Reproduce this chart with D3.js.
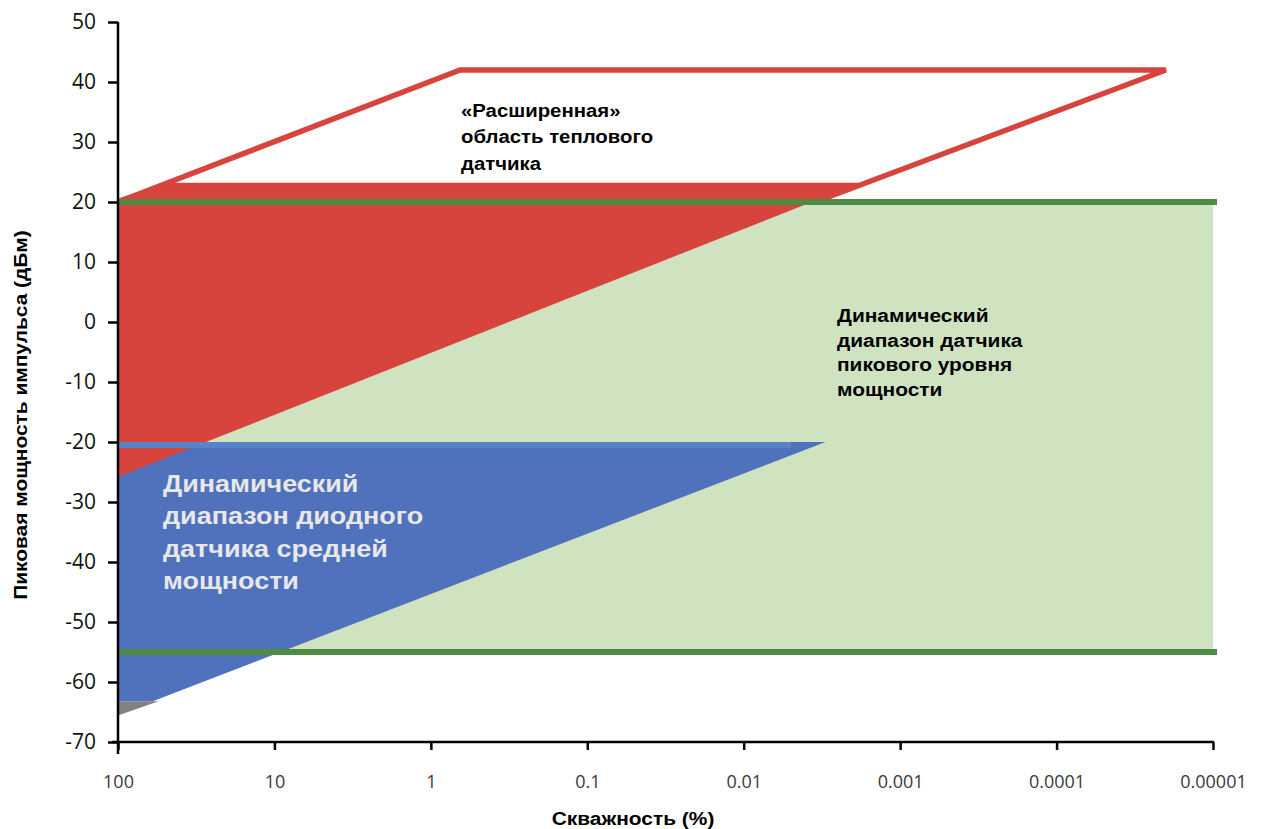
<!DOCTYPE html>
<html>
<head>
<meta charset="utf-8">
<script src="https://cdn.jsdelivr.net/npm/d3@7/dist/d3.min.js"></script>
<style>
  html, body { margin: 0; padding: 0; background: #ffffff; }
  svg { display: block; }
</style>
</head>
<body>
<svg id="chart" width="1261" height="829"></svg>
<script>
// Duty cycle (%) axis ticks and their labels
const dutyTicks = [100, 10, 1, 0.1, 0.01, 0.001, 0.0001, 0.00001];
const dutyTickLabels = ["100", "10", "1", "0.1", "0.01", "0.001", "0.0001", "0.00001"];
// Peak pulse power (dBm) axis ticks
const powerTicks = [50, 40, 30, 20, 10, 0, -10, -20, -30, -40, -50, -60, -70];

// Peak power sensor dynamic range: upper and lower limits (dBm) over the full duty range
const peakSensorLimits = [20, -55];
const peakSensorDuty = [100, 0.00001];

// Diode average-power sensor region [duty %, dBm]
const diodeRegion = [[100, -20], [0.003, -20], [60, -63.2], [100, -63.2]];
const diodeTopEdge = [[100, -20], [0.005, -20]];
const diodeTail = [[100, -63.2], [55, -63.2], [100, -65.6]];

// Thermal sensor region (filled) [duty %, dBm]
const thermalRegion = [[100, 20.6], [48, 23.2], [0.0018, 23.2], [100, -25.8]];
// "Extended" thermal sensor area outline [duty %, dBm]
const thermalExtended = [[100, 20], [0.65, 42], [0.00002, 42], [0.0035, 20]];

const colors = {
  peakFill: "#d0e3c1",
  peakLine: "#4e8c46",
  diode: "#5072bc",
  diodeEdge: "#5784c7",
  thermal: "#d7443e",
  tail: "#6b6b6b"
};

const svg = d3.select("#chart");
const x0 = 118, x1 = 1213, yTop = 22, yBottom = 742;

const x = d3.scaleLog().domain([100, 0.00001]).range([x0, x1]);
const y = d3.scaleLinear().domain([-70, 50]).range([yBottom, yTop]);

const line = d3.line().x(d => x(d[0])).y(d => y(d[1]));
const closed = pts => line(pts) + "Z";

// Peak sensor band
svg.append("rect")
  .attr("x", x(peakSensorDuty[0]))
  .attr("y", y(peakSensorLimits[0]))
  .attr("width", x(peakSensorDuty[1]) - x(peakSensorDuty[0]))
  .attr("height", y(peakSensorLimits[1]) - y(peakSensorLimits[0]))
  .attr("fill", colors.peakFill);

// Diode sensor region
svg.append("path").attr("d", closed(diodeTail)).attr("fill", colors.tail).attr("opacity", 0.85);
svg.append("path").attr("d", closed(diodeRegion)).attr("fill", colors.diode);

// Thermal sensor region
svg.append("path").attr("d", closed(thermalRegion)).attr("fill", colors.thermal);

// Top edge of the diode region
svg.append("path")
  .attr("d", line(diodeTopEdge))
  .attr("transform", "translate(0,3)")
  .attr("fill", "none")
  .attr("stroke", colors.diodeEdge)
  .attr("stroke-width", 6);

// Extended thermal area outline
svg.append("path")
  .attr("d", line(thermalExtended))
  .attr("fill", "none")
  .attr("stroke", colors.thermal)
  .attr("stroke-width", 5.5)
  .attr("stroke-linejoin", "miter");

// Peak sensor limit lines
svg.selectAll("line.limit")
  .data(peakSensorLimits)
  .join("line")
  .attr("class", "limit")
  .attr("x1", x(peakSensorDuty[0]))
  .attr("x2", x(peakSensorDuty[1]) + 4)
  .attr("y1", d => y(d))
  .attr("y2", d => y(d))
  .attr("stroke", colors.peakLine)
  .attr("stroke-width", 6);

// Axes
const yAxis = d3.axisLeft(y).tickValues(powerTicks).tickSize(10).tickPadding(12).tickFormat(d => String(d));
const gy = svg.append("g").attr("transform", `translate(${x0},0)`).call(yAxis);
gy.select(".domain").remove();
gy.selectAll(".tick line").attr("stroke", "#000").attr("stroke-width", 2.5);
gy.selectAll(".tick text")
  .attr("font-family", "'Open Sans', sans-serif")
  .attr("font-size", 21)
  .attr("fill", "#111");
svg.append("line")
  .attr("x1", x0).attr("x2", x0)
  .attr("y1", yTop).attr("y2", yBottom + 12)
  .attr("stroke", "#000").attr("stroke-width", 2.5);

const xAxis = d3.axisBottom(x).tickValues(dutyTicks).tickSize(8).tickPadding(25)
  .tickFormat((d, i) => dutyTickLabels[i]);
const gx = svg.append("g").attr("transform", `translate(0,${yBottom})`).call(xAxis);
gx.select(".domain").remove();
gx.selectAll(".tick line").attr("stroke", "#000").attr("stroke-width", 2.5);
gx.selectAll(".tick text")
  .attr("font-family", "'Open Sans', sans-serif")
  .attr("font-size", 18)
  .attr("fill", "#3a3a3a");
svg.append("line")
  .attr("x1", x0 - 6).attr("x2", x1 + 1)
  .attr("y1", yBottom).attr("y2", yBottom)
  .attr("stroke", "#000").attr("stroke-width", 2.5);

// Text helper: bold Arial-metric face, slightly widened
const textFont = "'Liberation Sans', Arial, sans-serif";
const widen = 1.1;

// Axis titles
svg.append("text")
  .attr("transform", `translate(633,825) scale(${widen},1)`)
  .attr("text-anchor", "middle")
  .attr("font-family", textFont)
  .attr("font-weight", "bold")
  .attr("font-size", 19)
  .attr("fill", "#000")
  .text("Скважность (%)");

svg.append("text")
  .attr("transform", `translate(27,415) rotate(-90) scale(${widen},1)`)
  .attr("text-anchor", "middle")
  .attr("font-family", textFont)
  .attr("font-weight", "bold")
  .attr("font-size", 19)
  .attr("fill", "#000")
  .text("Пиковая мощность импульса (дБм)");

// Region annotations
function block(lines, px, py, size, lh, color) {
  const t = svg.append("text")
    .attr("transform", `translate(${px},${py}) scale(${widen},1)`)
    .attr("font-family", textFont)
    .attr("font-weight", "bold")
    .attr("font-size", size)
    .attr("fill", color);
  lines.forEach((s, i) => {
    t.append("tspan").attr("x", 0).attr("y", i * lh).text(s);
  });
}

block(["«Расширенная»", "область теплового", "датчика"], 461, 117, 18.5, 26.5, "#000");
block(["Динамический", "диапазон датчика", "пикового уровня", "мощности"], 837, 322, 19, 24.7, "#000");
block(["Динамический", "диапазон диодного", "датчика средней", "мощности"], 163, 492, 24.5, 32.5, "#e8e8e8");
</script>
</body>
</html>
